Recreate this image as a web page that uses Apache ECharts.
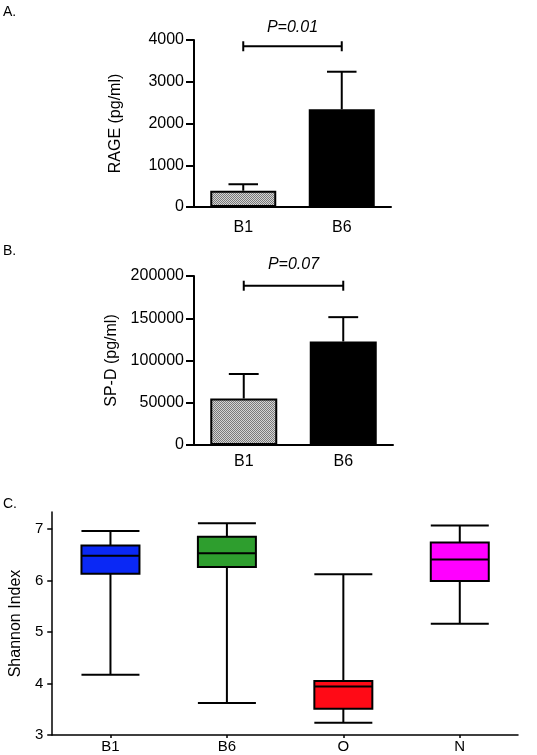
<!DOCTYPE html>
<html><head><meta charset="utf-8">
<script src="https://cdn.jsdelivr.net/npm/echarts@6/dist/echarts.min.js"></script>
<style>html,body{margin:0;padding:0;background:#fff}#c{width:537px;height:755px}</style>
</head><body><div id="c"></div>
<script>
// ---- Panel A: RAGE ----
const groupsAB = ['B1', 'B6'];
const rageMean = [390, 2340];
const rageUpper = [545, 3240];
const rageBracket = 3850;
const rageP = 'P=0.01';
// ---- Panel B: SP-D ----
const spdMean = [55000, 122500];
const spdUpper = [84000, 151300];
const spdBracket = 188500;
const spdP = 'P=0.07';
// ---- Panel C: Shannon index boxplots [min, Q1, median, Q3, max] ----
const groupsC = ['B1', 'B6', 'O', 'N'];
const shannonB1 = [4.17, 6.13, 6.48, 6.68, 6.96];
const shannonB6 = [3.62, 6.26, 6.53, 6.85, 7.11];
const shannonO = [3.24, 3.51, 3.94, 4.05, 6.12];
const shannonN = [5.16, 5.99, 6.41, 6.74, 7.07];
const boxColors = ['#0a28f5', '#2e9e2e', '#ff0a16', '#ff00ff'];
const shannonTicks = [3, 4, 5, 6, 7];

const FONT = 'Liberation Sans, Arial, sans-serif';

// hatched pattern for B1 bars
const pat = document.createElement('canvas');
pat.width = 2; pat.height = 2;
const pc = pat.getContext('2d');
pc.fillStyle = '#d4d4d4'; pc.fillRect(0, 0, 2, 2);
pc.fillStyle = '#7a7a7a'; pc.fillRect(0, 0, 1, 1); pc.fillRect(1, 1, 1, 1);
const hatch = { image: pat, repeat: 'repeat' };

function errRender(params, api) {
  const x = api.value(0);
  const p1 = api.coord([x, api.value(1)]);
  const p2 = api.coord([x, api.value(2)]);
  const half = api.size([1, 0])[0] * 0.15;
  return { type: 'group', children: [
    { type: 'line', shape: { x1: p1[0], y1: p1[1], x2: p2[0], y2: p2[1] }, style: { stroke: '#000', lineWidth: 2 } },
    { type: 'line', shape: { x1: p2[0] - half, y1: p2[1], x2: p2[0] + half, y2: p2[1] }, style: { stroke: '#000', lineWidth: 2 } }
  ]};
}
function bracketRender(label, textOff) {
  return function (params, api) {
    const a = api.coord([api.value(0), api.value(2)]);
    const b = api.coord([api.value(1), api.value(2)]);
    const s = { stroke: '#000', lineWidth: 2 };
    return { type: 'group', children: [
      { type: 'line', shape: { x1: a[0], y1: a[1], x2: b[0], y2: b[1] }, style: s },
      { type: 'line', shape: { x1: a[0], y1: a[1] - 5, x2: a[0], y2: a[1] + 5 }, style: s },
      { type: 'line', shape: { x1: b[0], y1: b[1] - 5, x2: b[0], y2: b[1] + 5 }, style: s },
      { type: 'text', style: { text: label, x: (a[0] + b[0]) / 2, y: a[1] - textOff, align: 'center', verticalAlign: 'middle', font: 'italic 16px ' + FONT, fill: '#000' } }
    ]};
  };
}

const plain = v => String(v);
const axLine = { show: true, lineStyle: { color: '#000', width: 2 } };
const chart = echarts.init(document.getElementById('c'), null, { renderer: 'canvas' });
chart.setOption({
  animation: false,
  backgroundColor: '#fff',
  textStyle: { fontFamily: FONT },
  graphic: [
    { type: 'text', left: 3, top: 5, style: { text: 'A.', font: '14px ' + FONT, fill: '#000' } },
    { type: 'text', left: 3, top: 244, style: { text: 'B.', font: '14px ' + FONT, fill: '#000' } },
    { type: 'text', left: 3, top: 497, style: { text: 'C.', font: '14px ' + FONT, fill: '#000' } }
  ],
  grid: [
    { left: 194, top: 40, width: 197, height: 167 },
    { left: 194, top: 276, width: 199, height: 169 },
    { left: 42, top: 512, width: 476, height: 223 }
  ],
  xAxis: [
    { gridIndex: 0, type: 'category', data: groupsAB, axisLine: axLine, axisTick: { show: false },
      axisLabel: { color: '#000', fontSize: 16, margin: 13 } },
    { gridIndex: 1, type: 'category', data: groupsAB, axisLine: axLine, axisTick: { show: false },
      axisLabel: { color: '#000', fontSize: 16, margin: 9 } },
    { gridIndex: 2, type: 'category', data: groupsC, axisLine: { show: true, lineStyle: { color: '#000', width: 1.5 } },
      axisTick: { show: true, alignWithLabel: true, length: 3, lineStyle: { color: '#000', width: 1.5 } },
      axisLabel: { color: '#000', fontSize: 15, margin: 4 } }
  ],
  yAxis: [
    { gridIndex: 0, type: 'value', min: 0, max: 4000, interval: 1000, splitLine: { show: false },
      axisLine: axLine, axisTick: { show: true, length: 8, lineStyle: { color: '#000', width: 2 } },
      axisLabel: { color: '#000', fontSize: 16, margin: 10, formatter: plain },
      name: 'RAGE (pg/ml)', nameLocation: 'middle', nameGap: 70, nameTextStyle: { color: '#000', fontSize: 16 } },
    { gridIndex: 1, type: 'value', min: 0, max: 200000, interval: 50000, splitLine: { show: false },
      axisLine: axLine, axisTick: { show: true, length: 8, lineStyle: { color: '#000', width: 2 } },
      axisLabel: { color: '#000', fontSize: 16, margin: 10, formatter: plain },
      name: 'SP-D (pg/ml)', nameLocation: 'middle', nameGap: 74, nameTextStyle: { color: '#000', fontSize: 16 } },
    { gridIndex: 2, type: 'value', min: 3, max: 7.33, splitLine: { show: false },
      axisLine: { show: true, lineStyle: { color: '#000', width: 1.5 } },
      axisTick: { show: true, length: 5, customValues: shannonTicks, lineStyle: { color: '#000', width: 1.5 } },
      axisLabel: { color: '#000', fontSize: 15, margin: 9, customValues: shannonTicks, formatter: plain },
      name: 'Shannon Index', nameLocation: 'middle', nameGap: 27, nameTextStyle: { color: '#000', fontSize: 16 } }
  ],
  series: [
    { type: 'bar', xAxisIndex: 0, yAxisIndex: 0, barWidth: 66,
      data: rageMean.map((v, i) => ({ value: v, itemStyle: { color: i === 0 ? hatch : '#000' } })),
      itemStyle: { borderColor: '#000', borderWidth: 2 } },
    { type: 'custom', xAxisIndex: 0, yAxisIndex: 0, renderItem: errRender, encode: { x: 0, y: [1, 2] },
      data: rageMean.map((m, i) => [i, m, rageUpper[i]]), z: 5 },
    { type: 'custom', xAxisIndex: 0, yAxisIndex: 0, renderItem: bracketRender(rageP, 19), encode: { x: [0, 1], y: 2 },
      data: [[0, 1, rageBracket]], z: 5 },
    { type: 'bar', xAxisIndex: 1, yAxisIndex: 1, barWidth: 67,
      data: spdMean.map((v, i) => ({ value: v, itemStyle: { color: i === 0 ? hatch : '#000' } })),
      itemStyle: { borderColor: '#000', borderWidth: 2 } },
    { type: 'custom', xAxisIndex: 1, yAxisIndex: 1, renderItem: errRender, encode: { x: 0, y: [1, 2] },
      data: spdMean.map((m, i) => [i, m, spdUpper[i]]), z: 5 },
    { type: 'custom', xAxisIndex: 1, yAxisIndex: 1, renderItem: bracketRender(spdP, 21), encode: { x: [0, 1], y: 2 },
      data: [[0, 1, spdBracket]], z: 5 },
    { type: 'boxplot', xAxisIndex: 2, yAxisIndex: 2, boxWidth: [58, 58],
      itemStyle: { borderColor: '#000', borderWidth: 2 },
      data: [shannonB1, shannonB6, shannonO, shannonN].map((d, i) => ({ value: d, itemStyle: { color: boxColors[i], borderColor: '#000', borderWidth: 2 } })) }
  ]
});
</script>
</body></html>
